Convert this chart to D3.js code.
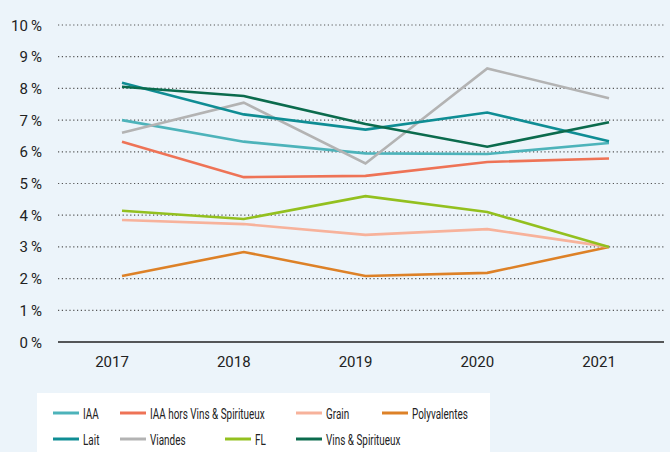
<!DOCTYPE html>
<html>
<head>
<meta charset="utf-8">
<script src="https://cdn.jsdelivr.net/npm/d3@7"></script>
<style>
  body { margin: 0; background: #ECF4FA; }
  svg { display: block; font-family: Roboto, "Liberation Sans", sans-serif; }
</style>
</head>
<body>
<div id="chart"></div>
<script>
const WIDTH = 670, HEIGHT = 452;

// data
const years = ["2017", "2018", "2019", "2020", "2021"];
const yTicks = [0, 1, 2, 3, 4, 5, 6, 7, 8, 9, 10];
const seriesNames = ["IAA", "IAA hors Vins & Spiritueux", "Grain", "Polyvalentes", "Lait", "Viandes", "FL", "Vins & Spiritueux"];
const iaa = [7.0, 6.32, 5.95, 5.93, 6.28];
const iaaHors = [6.32, 5.2, 5.24, 5.68, 5.79];
const grain = [3.85, 3.72, 3.38, 3.56, 3.0];
const polyvalentes = [2.08, 2.84, 2.08, 2.18, 3.0];
const lait = [8.18, 7.18, 6.7, 7.24, 6.33];
const viandes = [6.6, 7.55, 5.63, 8.63, 7.69];
const fl = [4.14, 3.88, 4.6, 4.1, 3.0];
const vins = [8.05, 7.76, 6.88, 6.16, 6.93];

const colors = ["#4DB3BA", "#EE7356", "#F7B29B", "#DD8127", "#0F8D94", "#B3B3B3", "#93C01F", "#0B6B4D"];
const seriesValues = [iaa, iaaHors, grain, polyvalentes, lait, viandes, fl, vins];
// draw order (back to front)
const drawOrder = [3, 2, 6, 1, 0, 5, 4, 7];

const svg = d3.select("#chart").append("svg").attr("width", WIDTH).attr("height", HEIGHT)
svg.append("rect").attr("width", WIDTH).attr("height", HEIGHT).attr("fill", "#ECF4FA")

const x = d3.scalePoint().domain(years).range([122, 609])
const y = d3.scaleLinear().domain([0, 10]).range([342, 25])

// gridlines
svg.append("g").selectAll("line").data(yTicks.filter(d => d > 0)).enter().append("line")
  .attr("x1", 58).attr("x2", 664).attr("y1", d => y(d)).attr("y2", d => y(d))
  .attr("stroke", "#555").attr("stroke-width", 1.2).attr("stroke-dasharray", "1.2,2.6")

// y labels
svg.append("g").selectAll("text").data(yTicks).enter().append("text")
  .attr("x", 42).attr("y", d => y(d) + 5.5).attr("text-anchor", "end")
  .attr("font-size", 15).attr("fill", "#222")
  .text(d => d + "\u2009%")

// baseline
svg.append("line").attr("x1", 58).attr("x2", 664).attr("y1", y(0)).attr("y2", y(0))
  .attr("stroke", "#222").attr("stroke-width", 1.5)

// x labels
svg.append("g").selectAll("text").data(years).enter().append("text")
  .attr("x", d => x(d) - 10).attr("y", 367).attr("text-anchor", "middle")
  .attr("font-size", 15).attr("fill", "#222")
  .text(d => d)

// lines
const line = d3.line().x((d, i) => x(years[i])).y(d => y(d))
drawOrder.forEach(i => {
  svg.append("path").datum(seriesValues[i]).attr("d", line)
    .attr("fill", "none").attr("stroke", colors[i]).attr("stroke-width", 2.6)
    .attr("stroke-linejoin", "miter")
})

// legend
svg.append("rect").attr("x", 37).attr("y", 393).attr("width", 453).attr("height", 59).attr("fill", "#fff")
const legendX = [53, 120, 296, 382, 53, 120, 225, 296];
const legendY = [413, 413, 413, 413, 439, 439, 439, 439];
seriesNames.forEach((name, i) => {
  const g = svg.append("g").attr("transform", "translate(" + legendX[i] + "," + legendY[i] + ")")
  g.append("line").attr("x1", 0).attr("x2", 26).attr("y1", 0).attr("y2", 0)
    .attr("stroke", colors[i]).attr("stroke-width", 3)
  const t = g.append("text").attr("x", 30).attr("y", 5.5).attr("font-size", 15.5).attr("fill", "#222").text(name)
  const w = t.node().getComputedTextLength()
  t.attr("textLength", w * 0.64).attr("lengthAdjust", "spacingAndGlyphs")
})
</script>
</body>
</html>
